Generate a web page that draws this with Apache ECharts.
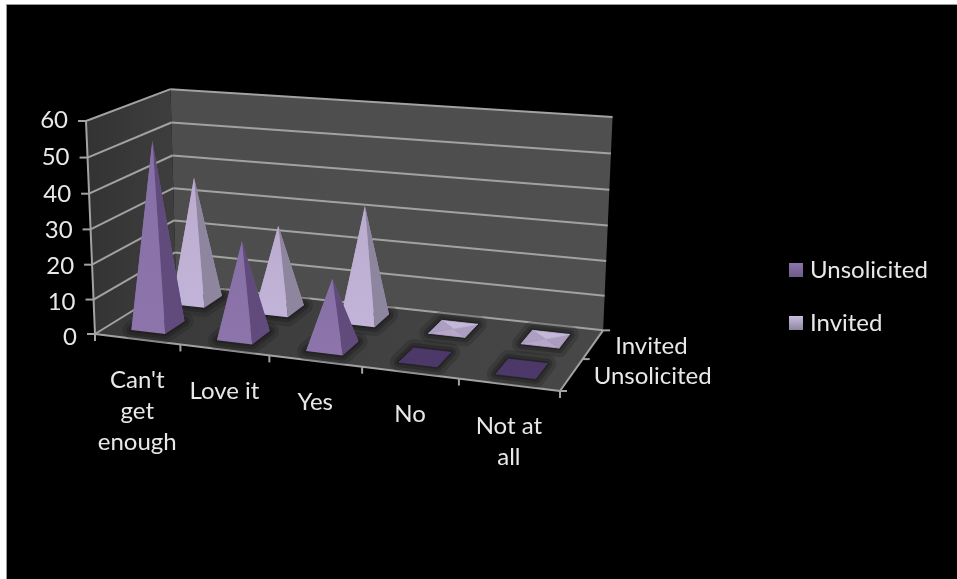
<!DOCTYPE html>
<html>
<head>
<meta charset="utf-8">
<style>html,body{margin:0;padding:0;background:#fff}#chart{width:957px;height:579px}</style>
<script src="https://cdn.jsdelivr.net/npm/echarts@6/dist/echarts.min.js"></script>
</head>
<body>
<div id="chart"></div>
<script>
// Survey answers, one pyramid per answer in each of the two rows
const categories = ["Can't\nget\nenough", "Love it", "Yes", "No", "Not at\nall"];
const unsolicited = [53, 27, 19, 0, 0];
const invited = [37, 25, 33, 0, 0];
const valueTicks = [0, 10, 20, 30, 40, 50, 60];
const depthLabels = ["Unsolicited", "Invited"];

const FONT = 'Lato, "Open Sans", sans-serif';
const TEXT = '#e8e8e8';
const LINE = '#a2a2a2';

// Perspective box: floor front-left, front-right, back-left, wall top-left, plus the taper per axis
const P0 = [95, 334], PU = [560, 391], PV = [176, 284], PT = [86, 121];
const G = -0.1, H = 0.0988, K = -0.035;
function project(u, v, t) {
  const w = 1 + G * u + H * v + K * t;
  const f = i => P0[i] + (PU[i] * (1 + G) - P0[i]) * u + (PV[i] * (1 + H) - P0[i]) * v + (PT[i] * (1 + K) - P0[i]) * t;
  return [f(0) / w, f(1) / w];
}

const PYRAMID_U = 0.04, PYRAMID_V = 0.12;
const poly = (points, fill, extra) => ({ type: 'polygon', shape: { points }, style: Object.assign({ fill }, extra || {}) });
const seam = colour => ({ stroke: colour, lineWidth: 0.8 });
const seg = (a, b, width) => ({ type: 'line', shape: { x1: a[0], y1: a[1], x2: b[0], y2: b[1] }, style: { stroke: LINE, lineWidth: width || 2 } });
const label = (text, x, y, align, vAlign) => ({
  type: 'text', style: { text, x, y, fill: TEXT, font: '24px ' + FONT, align, verticalAlign: vAlign || 'middle', lineHeight: 31 }
});

// Walls, floor, gridlines, ticks and every axis text of the box
function renderFrame(params, api) {
  const grad = (a, b) => new echarts.graphic.LinearGradient(0, 0, 1, 0, [{ offset: 0, color: a }, { offset: 1, color: b }]);
  const children = [
    poly([project(0, 0, 0), project(0, 1, 0), project(0, 1, 1), project(0, 0, 1)], grad('#333333', '#3e3e3e')),
    poly([project(0, 1, 0), project(1, 1, 0), project(1, 1, 1), project(0, 1, 1)], grad('#4d4d4d', '#4f4f4f')),
    poly([project(0, 0, 0), project(1, 0, 0), project(1, 1, 0), project(0, 1, 0)], grad('#383838', '#484848'))
  ];
  const top = valueTicks[valueTicks.length - 1];
  valueTicks.forEach(val => {
    const t = val / top, a = project(0, 0, t), b = project(0, 1, t), c = project(1, 1, t);
    children.push(seg(a, b), seg(b, c), seg([a[0] - 8, a[1]], a));
    children.push(label(String(val), a[0] - 18, a[1] + 3 - 4 * t, 'right'));
  });
  children.push(seg(project(0, 0, 0), project(0, 0, 1)));
  children.push(seg(project(0, 0, 0), project(1, 0, 0)), seg(project(1, 0, 0), project(1, 1, 0)));
  categories.forEach((name, i) => {
    const p = project(i / categories.length, 0, 0);
    children.push(seg(p, [p[0], p[1] + 7]));
    const mid = project((i + 0.5) / categories.length, 0, 0);
    children.push(label(name, mid[0], mid[1] + 26, 'center', 'top'));
  });
  const end = project(1, 0, 0);
  children.push(seg(end, [end[0], end[1] + 7]));
  [0, 0.5, 1].forEach(v => {
    const p = project(1, v, 0);
    children.push(seg(p, [p[0] + 7, p[1]]));
  });
  depthLabels.forEach((name, d) => {
    const p = project(1, (d + 0.5) / depthLabels.length, 0);
    children.push(label(name, p[0] + 22, p[1] + 2, 'left'));
  });
  return { type: 'group', children };
}

const faceColours = {
  Unsolicited: { front: ['#8d75ab', '#8770a5'], right: '#614b7d', back: '#6f5a8c', left: '#7b659a', flat: ['#4d3969', '#4d3969', '#4d3969', '#4d3969'] },
  Invited: { front: ['#c2b4d8', '#bbaccf'], right: '#8e869e', back: '#a89bbd', left: '#b0a3c4', flat: ['#b6a7cb', '#aa9dbf', '#c4b7d9', '#ac9fc2'] }
};

// One square-based pyramid, placed through the category and value axes
function renderPyramid(params, api) {
  const grid = params.coordSys;
  const at = api.coord([api.value(0), api.value(1)]);
  const u = (at[0] - grid.x) / grid.width;
  const t = (grid.y + grid.height - at[1]) / grid.height;
  const v = (api.value(2) + 0.5) / depthLabels.length;
  const fl = project(u - PYRAMID_U, v - PYRAMID_V, 0), fr = project(u + PYRAMID_U, v - PYRAMID_V, 0);
  const br = project(u + PYRAMID_U, v + PYRAMID_V, 0), bl = project(u - PYRAMID_U, v + PYRAMID_V, 0);
  const apex = project(u, v, t);
  const c = faceColours[params.seriesName];
  // Soft dark halo on the floor around the base
  const halo = [fl, fr, br, bl];
  const shadows = [
    poly(halo, 'none', { stroke: 'rgba(25,25,25,0.22)', lineWidth: 18, lineJoin: 'round' }),
    poly(halo, 'none', { stroke: 'rgba(25,25,25,0.35)', lineWidth: 10, lineJoin: 'round' }),
    poly(halo, '#222222', { stroke: 'rgba(25,25,25,0.5)', lineWidth: 4, lineJoin: 'round' })
  ];
  const faces = api.value(1) > 0
    ? [
        poly([bl, br, apex], c.back),
        poly([fl, bl, apex], c.left),
        poly([fr, br, apex], c.right),
        poly([fl, fr, apex], new echarts.graphic.LinearGradient(0, 0, 0, 1, [{ offset: 0, color: c.front[1] }, { offset: 1, color: c.front[0] }]))
      ]
    : [
        poly([fl, fr, apex], c.flat[0], seam(c.flat[0])),
        poly([fr, br, apex], c.flat[1], seam(c.flat[1])),
        poly([bl, br, apex], c.flat[2], seam(c.flat[2])),
        poly([fl, bl, apex], c.flat[3], seam(c.flat[3]))
      ];
  return { type: 'group', children: shadows.concat(faces) };
}

const rowData = (values, d) => values.map((val, i) => [i, val, d]);
const legendIcon = (a, b) => new echarts.graphic.LinearGradient(0, 0, 0, 1, [{ offset: 0, color: a }, { offset: 1, color: b }]);

const chart = echarts.init(document.getElementById('chart'), null, { renderer: 'canvas' });
chart.setOption({
  animation: false,
  backgroundColor: '#ffffff',
  graphic: [{
    type: 'rect', z: -10, silent: true,
    shape: { x: 6.5, y: 4.5, width: 960, height: 590 },
    style: { fill: '#000000', stroke: '#9a9a9a', lineWidth: 1 }
  }],
  grid: { left: 0, right: 0, top: 0, bottom: 0 },
  xAxis: { type: 'category', data: categories, show: false },
  yAxis: { type: 'value', min: 0, max: 60, interval: 10, show: false },
  legend: {
    orient: 'vertical', left: 784, top: 253, itemWidth: 14, itemHeight: 14, itemGap: 29,
    textStyle: { color: TEXT, fontFamily: FONT, fontSize: 24, padding: [0, 0, 0, 2] },
    data: [
      { name: 'Unsolicited', icon: 'rect', itemStyle: { color: legendIcon('#8d75ab', '#6d5a8a') } },
      { name: 'Invited', icon: 'rect', itemStyle: { color: legendIcon('#c9bcde', '#8f869e') } }
    ]
  },
  series: [
    { type: 'custom', name: 'frame', silent: true, clip: false, z: 1, data: [[0, 0, 0]], renderItem: renderFrame },
    { type: 'custom', name: 'Invited', silent: true, clip: false, z: 2, data: rowData(invited, 1), renderItem: renderPyramid, itemStyle: { color: '#bbaccf' } },
    { type: 'custom', name: 'Unsolicited', silent: true, clip: false, z: 3, data: rowData(unsolicited, 0), renderItem: renderPyramid, itemStyle: { color: '#8770a5' } }
  ]
});
</script>
</body>
</html>
